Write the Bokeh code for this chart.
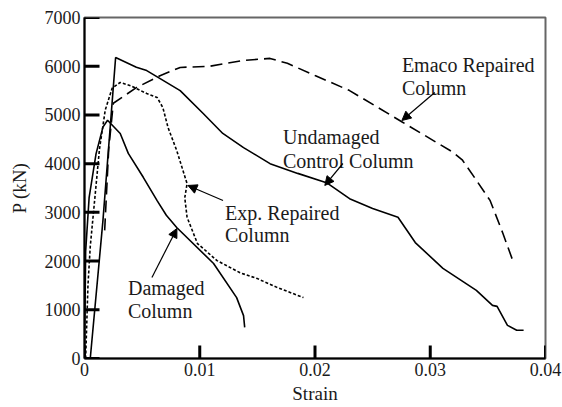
from bokeh.plotting import figure
from bokeh.embed import file_html
from bokeh.resources import INLINE
from bokeh.models import FixedTicker, CustomJSTickFormatter, Arrow, NormalHead, ColumnDataSource
from bokeh.core.properties import value

# ---- data ----
undamaged_strain = [0.0005, 0.0016, 0.0027, 0.0045, 0.0054, 0.0066, 0.0083, 0.0103, 0.0120, 0.0138,
                    0.0161, 0.0185, 0.0210, 0.0230, 0.0250, 0.0272, 0.0287, 0.0311, 0.0340, 0.0354,
                    0.0358, 0.0367, 0.0375, 0.0381]
undamaged_load = [0, 2830, 6180, 5980, 5910, 5740, 5500, 5030, 4620, 4330,
                  4000, 3800, 3610, 3280, 3080, 2900, 2380, 1850, 1400, 1090,
                  1070, 680, 580, 580]

emaco_strain = [0.00175, 0.0021, 0.0025, 0.0045, 0.0066, 0.0083, 0.0109, 0.0138, 0.0161, 0.0176,
                0.0200, 0.0230, 0.0276, 0.0320, 0.0328, 0.0340, 0.0352, 0.0363, 0.0371]
emaco_load = [2630, 4300, 5240, 5560, 5810, 5975, 6000, 6120, 6160, 6060,
              5810, 5500, 4850, 4230, 4070, 3660, 3240, 2570, 2050]

exp_strain = [0.0001, 0.0003, 0.0005, 0.0013, 0.0018, 0.0024, 0.0031, 0.0040, 0.0054, 0.0063,
              0.0068, 0.00725, 0.0080, 0.0089, 0.0087, 0.0089, 0.0098, 0.0115, 0.0135, 0.0150,
              0.0167, 0.0190]
exp_load = [0, 1500, 2300, 4300, 5100, 5550, 5667, 5600, 5440, 5360,
            5150, 4740, 4270, 3590, 3300, 2900, 2360, 2010, 1760, 1640,
            1460, 1250]

damaged_strain = [0.0, 0.0001, 0.0004, 0.0010, 0.0016, 0.0020, 0.0031, 0.0038, 0.0051, 0.0063,
                  0.0071, 0.0080, 0.0112, 0.0132, 0.0138, 0.0139]
damaged_load = [0, 2200, 3300, 4200, 4750, 4890, 4620, 4210, 3720, 3240,
                2940, 2690, 1950, 1250, 880, 640]

x_ticks = [0, 0.01, 0.02, 0.03, 0.04]
y_ticks = [0, 1000, 2000, 3000, 4000, 5000, 6000, 7000]

# annotation texts (left x, baseline y in data units)
label_texts = ["Emaco Repaired", "Column", "Undamaged", "Control Column",
               "Exp. Repaired", "Column", "Damaged", "Column"]
label_x = [0.02754, 0.02754, 0.01722, 0.01722, 0.01219, 0.01219, 0.00377, 0.00377]
label_y = [6015, 5563, 4537, 4044, 2977, 2525, 1437, 965]

# arrows: start (x, y) -> tip (x, y)
arrow_x0 = [0.03039, 0.02242, 0.01202, 0.00585]
arrow_y0 = [5461, 4003, 3244, 1663]
arrow_x1 = [0.02754, 0.02085, 0.00898, 0.00802]
arrow_y1 = [4886, 3552, 3552, 2669]

FONT = "Liberation Serif"
AX_FONT = "'Liberation Serif', 'Times New Roman', serif"
INK = "#1a1a1a"

X_MAX, Y_MAX = 0.04, 7000
W, H = 562, 407
BL, BR, BT, BB = 84, 17, 17, 49
FRAME_W, FRAME_H = W - BL - BR, H - BT - BB

p = figure(width=W, height=H, output_backend="svg", toolbar_location=None,
           x_range=(0, X_MAX), y_range=(0, Y_MAX),
           min_border_left=BL, min_border_right=BR, min_border_top=BT, min_border_bottom=BB)
p.background_fill_color = "white"
p.border_fill_color = "white"
p.outline_line_color = "#666666"
p.outline_line_width = 2
p.xgrid.visible = False
p.ygrid.visible = False

p.line(undamaged_strain, undamaged_load, line_color="black", line_width=1.6)
p.line(emaco_strain, emaco_load, line_color="black", line_width=1.6, line_dash="12 6")
p.line(exp_strain, exp_load, line_color="black", line_width=1.6, line_dash="3 2")
p.line(damaged_strain, damaged_load, line_color="black", line_width=1.6)

# inward tick marks: 15 px on the y axis, 13 px on the x axis
ytick_len = 15 * X_MAX / FRAME_W
xtick_len = 13 * Y_MAX / FRAME_H
tick_src_y = ColumnDataSource(dict(x0=[0.0] * len(y_ticks), y0=y_ticks,
                                   x1=[ytick_len] * len(y_ticks), y1=y_ticks))
tick_src_x = ColumnDataSource(dict(x0=x_ticks, y0=[0.0] * len(x_ticks),
                                   x1=x_ticks, y1=[xtick_len] * len(x_ticks)))
p.segment(x0="x0", y0="y0", x1="x1", y1="y1", source=tick_src_y,
          line_color="#000000", line_width=3)
p.segment(x0="x0", y0="y0", x1="x1", y1="y1", source=tick_src_x,
          line_color="#000000", line_width=3)

src = ColumnDataSource(dict(x=label_x, y=label_y, t=label_texts))
p.text(x="x", y="y", text="t", source=src, text_font=value(FONT), text_font_size="20px",
       text_color=INK, text_align="left", text_baseline="alphabetic")

for x0, y0, x1, y1 in zip(arrow_x0, arrow_y0, arrow_x1, arrow_y1):
    p.add_layout(Arrow(x_start=x0, y_start=y0, x_end=x1, y_end=y1, line_width=1.2,
                       line_color="black",
                       end=NormalHead(size=9, fill_color="black", line_color="black", line_width=1)))

for ax in (p.xaxis[0], p.yaxis[0]):
    ax.axis_line_color = "black"
    ax.axis_line_width = 2
    ax.major_tick_line_color = "black"
    ax.major_tick_line_width = 2
    ax.major_tick_out = 0
    ax.major_tick_in = 0
    ax.minor_tick_line_color = None
    ax.major_label_text_font = AX_FONT
    ax.major_label_text_font_size = "18px"
    ax.major_label_text_color = INK
    ax.axis_label_text_font = AX_FONT
    ax.axis_label_text_font_size = "19px"
    ax.axis_label_text_font_style = "normal"
    ax.axis_label_text_color = INK

p.xaxis[0].ticker = FixedTicker(ticks=x_ticks)
p.xaxis[0].formatter = CustomJSTickFormatter(code="return tick == 0 ? '0' : tick.toFixed(2);")
p.xaxis[0].major_label_standoff = 4
p.xaxis[0].axis_label = "Strain"
p.xaxis[0].axis_label_standoff = 4

p.yaxis[0].ticker = FixedTicker(ticks=y_ticks)
p.yaxis[0].formatter = CustomJSTickFormatter(code="return tick.toFixed(0);")
p.yaxis[0].major_label_standoff = 4
p.yaxis[0].axis_label = "P (kN)"
p.yaxis[0].axis_label_standoff = 12

open("out.html", "w").write(file_html(p, INLINE))
